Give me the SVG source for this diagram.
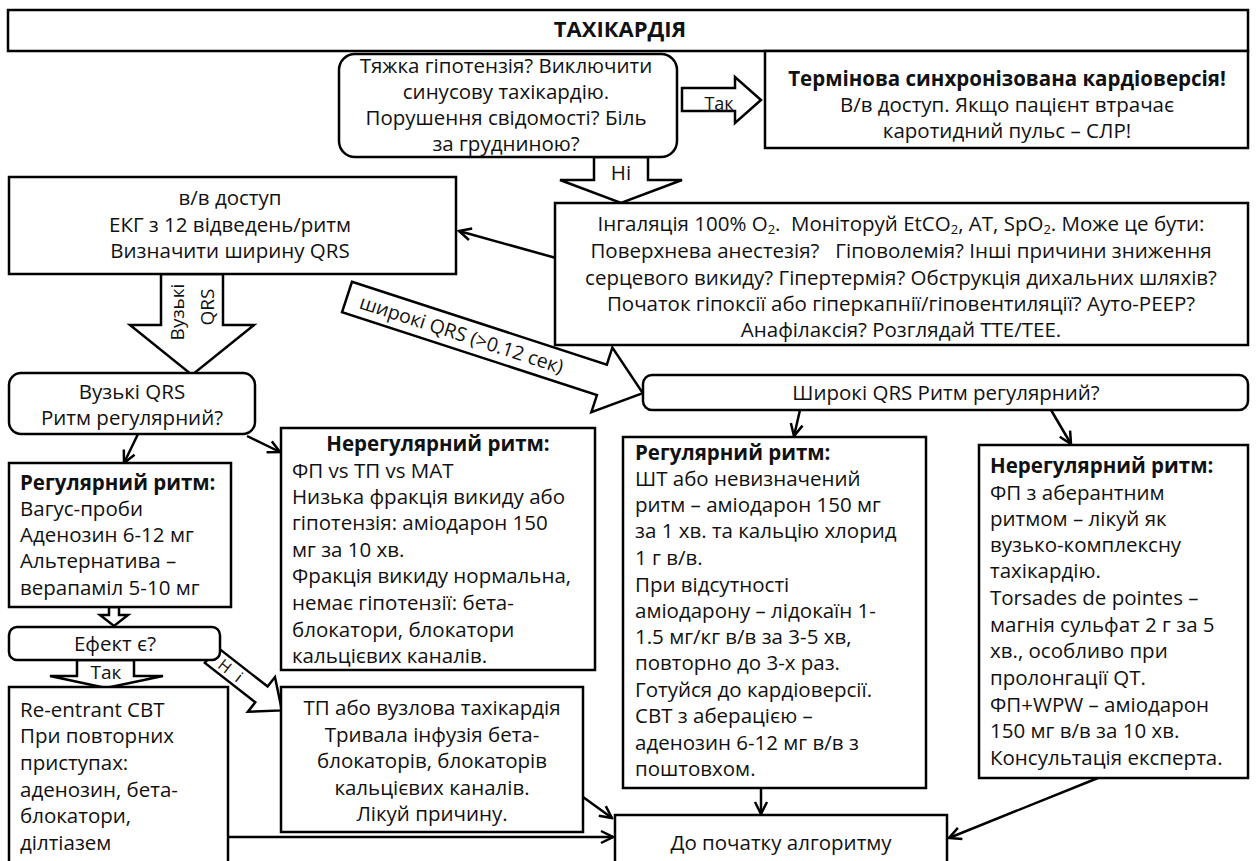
<svg xmlns="http://www.w3.org/2000/svg" width="1256" height="861" viewBox="0 0 1256 861">
<defs>
<style>
.b{fill:#fff;stroke:#000;stroke-width:2.5}
.ba{fill:#fff;stroke:#000;stroke-width:2.5;stroke-linejoin:miter}
.t{font-family:"Open Sans","Noto Sans","DejaVu Sans",sans-serif;font-size:20.5px;fill:#111}
.c{text-anchor:middle}
.bd{font-weight:bold}
.ln{fill:none;stroke:#000;stroke-width:2.5;marker-end:url(#ah)}
.sub{font-size:13px}
</style>
<marker id="ah" markerUnits="userSpaceOnUse" markerWidth="16" markerHeight="16" refX="14" refY="8" orient="auto">
<path d="M2,2 L14,8 L2,14" fill="none" stroke="#000" stroke-width="2.5"/>
</marker>
</defs>
<rect width="1256" height="861" fill="#fff"/>

<g id="connectors">
<line class="ln" x1="556" y1="258" x2="459" y2="231"/>
<line class="ln" x1="138" y1="434" x2="124" y2="463"/>
<line class="ln" x1="247" y1="436" x2="280" y2="452"/>
<line class="ln" x1="800" y1="410" x2="794" y2="436"/>
<line class="ln" x1="1051" y1="410" x2="1071" y2="444"/>
<line class="ln" x1="761" y1="788" x2="761" y2="814"/>
<line class="ln" x1="1098" y1="778" x2="949" y2="838"/>
<line class="ln" x1="583" y1="797" x2="612" y2="818"/>
<line class="ln" x1="228" y1="837" x2="613" y2="837"/>
<polygon class="ba" points="682,88 735,88 735,77 761,100 735,123 735,111 682,111"/>
<text class="t c" x="719" y="110" style="font-size:18px">Так</text>
<polygon class="ba" points="594,157 648,157 648,180 682,180 621,203 560,180 594,180"/>
<text class="t c" x="621" y="180">Ні</text>
<polygon class="ba" points="161,274 223,274 223,325 254,325 192,375 130,325 161,325"/>
<text class="t c" transform="translate(184,312) rotate(-90)" style="font-size:19px">Вузькі</text>
<text class="t c" transform="translate(214,307) rotate(-90)" style="font-size:19px">QRS</text>
<g transform="translate(347,297) rotate(18)">
<polygon class="ba" points="0,-16 268,-16 268,-34 311,0 268,34 268,16 0,16"/>
<text class="t" x="14" y="7" style="font-size:19.5px">широкі QRS (&gt;0.12 сек)</text>
</g>
<polygon class="ba" points="109,607 119,607 119,615 128,615 114,626 100,615 109,615"/>
<polygon class="ba" points="77,660 134,660 134,676 163,676 106,688 50,676 77,676"/>
<text class="t c" x="106" y="679" style="font-size:19px">Так</text>
<g transform="translate(211,655) rotate(38)">
<polygon class="ba" points="0,-10 64,-10 64,-22 90,0 64,22 64,10 0,10"/>
<text class="t" x="12" y="6" style="font-size:16px;letter-spacing:10px">Ні</text>
</g>
</g>

<g id="title">
<rect class="b" x="8" y="10" width="1240" height="41"/>
<text class="t c bd" x="620" y="37" style="font-size:22px">ТАХІКАРДІЯ</text>
</g>

<g id="q1">
<rect class="b" x="339" y="54" width="338" height="103" rx="16"/>
<text class="t c" x="506" y="73">Тяжка гіпотензія? Виключити</text>
<text class="t c" x="506" y="99">синусову тахікардію.</text>
<text class="t c" x="506" y="125">Порушення свідомості? Біль</text>
<text class="t c" x="506" y="151">за грудниною?</text>
</g>

<g id="cardioversion">
<rect class="b" x="765" y="51" width="483" height="97"/>
<text class="t c bd" x="1007" y="86">Термінова синхронізована кардіоверсія!</text>
<text class="t c" x="1007" y="112">В/в доступ. Якщо пацієнт втрачає</text>
<text class="t c" x="1007" y="138">каротидний пульс – СЛР!</text>
</g>

<g id="access">
<rect class="b" x="9" y="177" width="447" height="97"/>
<text class="t c" x="230" y="205">в/в доступ</text>
<text class="t c" x="230" y="232">ЕКГ з 12 відведень/ритм</text>
<text class="t c" x="230" y="258">Визначити ширину QRS</text>
</g>

<g id="causes">
<rect class="b" x="555" y="203" width="693" height="142"/>
<text class="t c" x="901" y="231" xml:space="preserve">Інгаляція 100% O<tspan class="sub" dy="3">2</tspan><tspan dy="-3">.  Моніторуй EtCO</tspan><tspan class="sub" dy="3">2</tspan><tspan dy="-3">, AT, SpO</tspan><tspan class="sub" dy="3">2</tspan><tspan dy="-3">. Може це бути:</tspan></text>
<text class="t c" x="901" y="258" xml:space="preserve">Поверхнева анестезія?   Гіповолемія? Інші причини зниження</text>
<text class="t c" x="901" y="285">серцевого викиду? Гіпертермія? Обструкція дихальних шляхів?</text>
<text class="t c" x="901" y="311">Початок гіпоксії або гіперкапнії/гіповентиляції? Ауто-PEEP?</text>
<text class="t c" x="901" y="337">Анафілаксія? Розглядай TTE/TEE.</text>
</g>

<g id="narrow">
<rect class="b" x="9" y="373" width="246" height="61" rx="12"/>
<text class="t c" x="132" y="399">Вузькі QRS</text>
<text class="t c" x="132" y="425">Ритм регулярний?</text>
</g>

<g id="wide">
<rect class="b" x="643" y="375" width="605" height="35" rx="9"/>
<text class="t c" x="946" y="400">Широкі QRS Ритм регулярний?</text>
</g>

<g id="narrow-irregular">
<rect class="b" x="281" y="428" width="314" height="242"/>
<text class="t c bd" x="438" y="451">Нерегулярний ритм:</text>
<text class="t" x="292" y="478">ФП vs ТП vs МАТ</text>
<text class="t" x="292" y="504">Низька фракція викиду або</text>
<text class="t" x="292" y="530">гіпотензія: аміодарон 150</text>
<text class="t" x="292" y="557">мг за 10 хв.</text>
<text class="t" x="292" y="583">Фракція викиду нормальна,</text>
<text class="t" x="292" y="610">немає гіпотензії: бета-</text>
<text class="t" x="292" y="637">блокатори, блокатори</text>
<text class="t" x="292" y="663">кальцієвих каналів.</text>
</g>

<g id="narrow-regular">
<rect class="b" x="9" y="463" width="222" height="144"/>
<text class="t bd" x="20" y="490">Регулярний ритм:</text>
<text class="t" x="20" y="516">Вагус-проби</text>
<text class="t" x="20" y="542">Аденозин 6-12 мг</text>
<text class="t" x="20" y="568">Альтернатива –</text>
<text class="t" x="20" y="595">верапаміл 5-10 мг</text>
</g>

<g id="effect">
<rect class="b" x="9" y="627" width="211" height="33" rx="8"/>
<text class="t c" x="115" y="651">Ефект є?</text>
</g>

<g id="reentrant">
<rect class="b" x="9" y="687" width="219" height="190"/>
<text class="t" x="20" y="717">Re-entrant СВТ</text>
<text class="t" x="20" y="743">При повторних</text>
<text class="t" x="20" y="770">приступах:</text>
<text class="t" x="20" y="797">аденозин, бета-</text>
<text class="t" x="20" y="823">блокатори,</text>
<text class="t" x="20" y="850">ділтіазем</text>
</g>

<g id="flutter">
<rect class="b" x="281" y="687" width="302" height="145"/>
<text class="t c" x="432" y="715">ТП або вузлова тахікардія</text>
<text class="t c" x="432" y="742">Тривала інфузія бета-</text>
<text class="t c" x="432" y="768">блокаторів, блокаторів</text>
<text class="t c" x="432" y="795">кальцієвих каналів.</text>
<text class="t c" x="432" y="821">Лікуй причину.</text>
</g>

<g id="wide-regular">
<rect class="b" x="623" y="437" width="303" height="351"/>
<text class="t bd" x="635" y="460">Регулярний ритм:</text>
<text class="t" x="635" y="486">ШТ або невизначений</text>
<text class="t" x="635" y="512">ритм – аміодарон 150 мг</text>
<text class="t" x="635" y="538">за 1 хв. та кальцію хлорид</text>
<text class="t" x="635" y="565">1 г в/в.</text>
<text class="t" x="635" y="592">При відсутності</text>
<text class="t" x="635" y="618">аміодарону – лідокаїн 1-</text>
<text class="t" x="635" y="644">1.5 мг/кг в/в за 3-5 хв,</text>
<text class="t" x="635" y="670">повторно до 3-х раз.</text>
<text class="t" x="635" y="697">Готуйся до кардіоверсії.</text>
<text class="t" x="635" y="723">СВТ з аберацією –</text>
<text class="t" x="635" y="750">аденозин 6-12 мг в/в з</text>
<text class="t" x="635" y="776">поштовхом.</text>
</g>

<g id="wide-irregular">
<rect class="b" x="979" y="445" width="269" height="333"/>
<text class="t bd" x="990" y="473">Нерегулярний ритм:</text>
<text class="t" x="990" y="500">ФП з аберантним</text>
<text class="t" x="990" y="526">ритмом – лікуй як</text>
<text class="t" x="990" y="552">вузько-комплексну</text>
<text class="t" x="990" y="578">тахікардію.</text>
<text class="t" x="990" y="605">Torsades de pointes –</text>
<text class="t" x="990" y="632">магнія сульфат 2 г за 5</text>
<text class="t" x="990" y="658">хв., особливо при</text>
<text class="t" x="990" y="685">пролонгації QT.</text>
<text class="t" x="990" y="712">ФП+WPW – аміодарон</text>
<text class="t" x="990" y="738">150 мг в/в за 10 хв.</text>
<text class="t" x="990" y="765">Консультація експерта.</text>
</g>

<g id="restart">
<rect class="b" x="615" y="815" width="332" height="70"/>
<text class="t c" x="781" y="850">До початку алгоритму</text>
</g>
</svg>
